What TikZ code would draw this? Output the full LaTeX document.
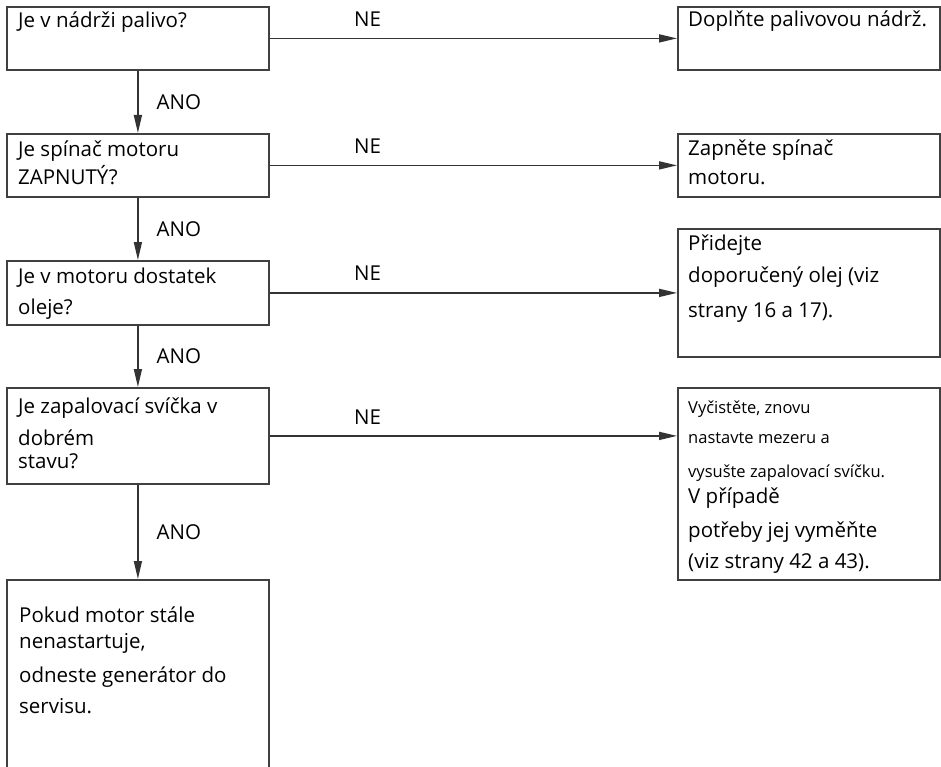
\documentclass[tikz,border=0pt]{standalone}
\usepackage{fontspec}
\setmainfont{Open Sans}
\usetikzlibrary{arrows.meta,positioning}

\tikzset{
  box/.style={draw=black!75,line width=1.8pt,anchor=north west,minimum width=262pt,inner sep=0pt},
  txt/.style={anchor=base west,inner sep=0pt,align=left,font=\fontsize{20.5}{24}\selectfont},
  smalltxt/.style={txt,font=\fontsize{16.5}{20}\selectfont},
  arr/.style={draw=black!80,line width=1.6pt,-{Triangle[length=18pt,width=8pt]}},
  lbl/.style={inner sep=0pt,font=\fontsize{20.5}{24}\selectfont}
}

\begin{document}
\begin{tikzpicture}[x=1pt,y=-1pt]
\clip (0,0) rectangle (941,767);
\fill[white] (0,0) rectangle (941,767);
% question boxes
\node[box,minimum height=63] (q1) at (6,6) {};
\node[box,minimum height=63] (q2) at (6,133) {};
\node[box,minimum height=64] (q3) at (6,260) {};
\node[box,minimum height=96] (q4) at (6,387) {};
\node[box,minimum height=200] (q5) at (6,579) {};
% answer boxes
\node[box,minimum height=63] (a1) at (677,6) {};
\node[box,minimum height=63] (a2) at (677,133) {};
\node[box,minimum height=128] (a3) at (677,228) {};
\node[box,minimum height=192] (a4) at (677,387) {};
% texts (placed at the baseline of their last line)
\node[txt] (tq1) at (18,28) {Je v nádrži palivo?};
\node[txt] (tq2) at (18,185) {Je spínač motoru\\[3pt]ZAPNUTÝ?};
\node[txt] (tq3) at (18,314) {Je v motoru dostatek\\[7pt]oleje?};
\node[txt] (tq4) at (18,468) {Je zapalovací svíčka v\\[8pt]dobrém\\[-1pt]stavu?};
\node[txt] (tq5) at (19,713) {Pokud motor stále\\[2pt]nenastartuje,\\[10pt]odneste generátor do\\[7pt]servisu.};
\node[txt] (ta1) at (688,27) {Doplňte palivovou nádrž.};
\node[txt] (ta2) at (688,185) {Zapněte spínač\\[5pt]motoru.};
\node[txt] (ta3) at (688,317) {Přidejte\\[8pt]doporučený olej (viz\\[11pt]strany 16 a 17).};
\node[smalltxt] (ta4) at (688,477) {Vyčistěte, znovu\\[10pt]nastavte mezeru a\\[14pt]vysušte zapalovací svíčku.};
\node[txt] (tb4) at (688,568) {V případě\\[10pt]potřeby jej vyměňte\\[7pt](viz strany 42 a 43).};
% ANO arrows
\draw[arr] (q1.south) -- node[lbl,right=18pt] {ANO} (q2.north);
\draw[arr] (q2.south) -- node[lbl,right=18pt] {ANO} (q3.north);
\draw[arr] (q3.south) -- node[lbl,right=18pt] {ANO} (q4.north);
\draw[arr] (q4.south) -- node[lbl,right=18pt] {ANO} (q5.north);
% NE arrows
\draw[arr] (q1.east) -- node[lbl,pos=0.24,above=11pt] {NE} (a1.west);
\draw[arr] (q2.east) -- node[lbl,pos=0.24,above=11pt] {NE} (a2.west);
\draw[arr] (q3.east) -- node[lbl,pos=0.24,above=12pt] {NE} (a3.west);
\draw[arr] (q4.east) -- node[lbl,pos=0.24,above=11pt] {NE} (q4.east -| a4.west);
\end{tikzpicture}
\end{document}
